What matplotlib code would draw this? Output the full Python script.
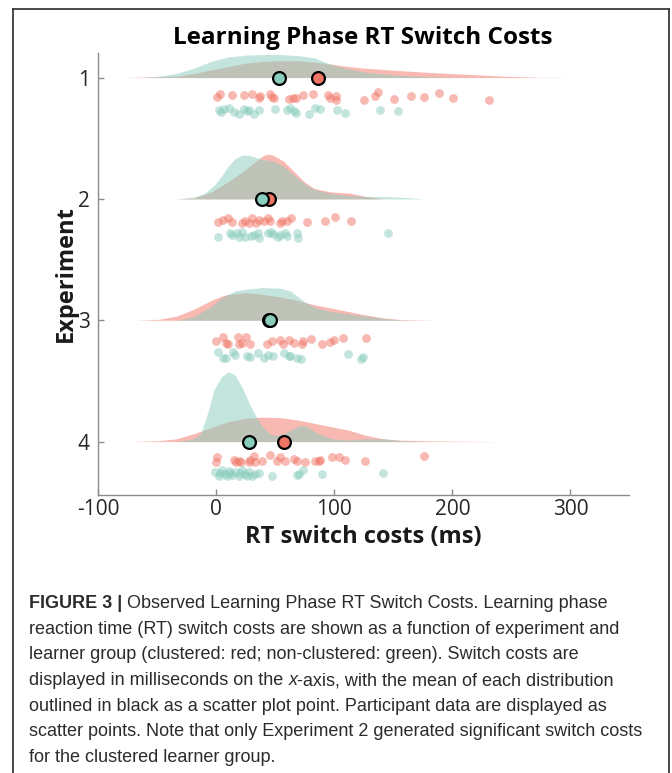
import matplotlib
matplotlib.use("Agg")
import matplotlib.pyplot as plt
from matplotlib.lines import Line2D
import numpy as np

# ---- data (x in ms) ----
experiments = [1, 2, 3, 4]
tick_x = [-100, 0, 100, 200, 300]

red_mean = [86.0, 44.3, 45.0, 57.7]
green_mean = [53.0, 38.5, 45.8, 27.6]

# density outlines (x, height in arbitrary units)
exp1_red_kx = [-77.5, -33.7, -19.1, -4.5, 10.1, 24.7, 39.3, 54.0, 68.6, 83.2, 97.8, 112.4, 127.0, 156.2, 185.4, 214.7, 243.9, 273.1, 302.4]
exp1_red_kh = [0, 1.4, 4.1, 7.6, 11.0, 14.5, 16.2, 16.9, 16.9, 15.5, 13.4, 11.0, 9.3, 6.9, 4.8, 3.1, 1.4, 0.3, 0]
exp1_grn_kx = [-63.0, -48.3, -33.7, -19.1, -4.5, 10.1, 24.7, 39.3, 54.0, 68.6, 83.2, 97.8, 112.4, 127.0, 156.2, 185.4, 214.7]
exp1_grn_kh = [0, 1.4, 4.1, 9.3, 16.2, 20.7, 22.4, 23.1, 23.1, 22.1, 19.7, 12.8, 8.6, 5.2, 2.1, 0.7, 0]

exp2_red_kx = [-33.7, -19.1, -4.5, 10.1, 24.7, 33.5, 39.3, 43.7, 48.1, 56.9, 65.6, 74.4, 83.2, 97.8, 112.4, 127.0, 141.6]
exp2_red_kh = [0, 1.0, 6.9, 17.2, 29.3, 37.9, 43.1, 44.8, 43.8, 37.9, 27.6, 17.2, 10.3, 6.9, 5.9, 2.4, 0]
exp2_grn_kx = [-33.7, -19.1, -10.4, -1.6, 4.2, 10.1, 15.9, 21.8, 27.6, 33.5, 39.3, 48.1, 56.9, 65.6, 74.4, 83.2, 97.8, 112.4, 127.0, 141.6, 156.2, 176.7]
exp2_grn_kh = [0, 1.7, 5.2, 13.8, 22.4, 32.8, 40.3, 43.8, 43.8, 41.4, 39.7, 37.9, 32.8, 24.1, 15.5, 9.3, 5.2, 3.4, 2.4, 2.4, 1.7, 0]

exp3_red_kx = [-68.8, -48.3, -33.7, -19.1, -4.5, 4.2, 10.1, 24.7, 39.3, 54.0, 68.6, 74.4, 83.2, 97.8, 112.4, 127.0, 141.6, 156.2, 185.4]
exp3_red_kh = [0, 1.0, 4.1, 11.0, 19.7, 24.1, 25.9, 27.6, 25.9, 23.4, 20.0, 17.9, 15.5, 12.1, 8.6, 5.2, 2.4, 0.7, 0]
exp3_grn_kx = [-33.7, -19.1, -4.5, 4.2, 10.1, 15.9, 24.7, 39.3, 54.0, 62.7, 68.6, 74.4, 83.2, 97.8, 112.4, 127.0, 141.6, 156.2, 170.8]
exp3_grn_kh = [0, 3.4, 13.8, 22.4, 25.9, 29.3, 31.0, 32.8, 32.1, 29.3, 24.1, 19.0, 13.1, 8.6, 6.2, 4.1, 1.7, 0.3, 0]

exp4_red_kx = [-71.7, -48.3, -33.7, -19.1, -4.5, 10.1, 24.7, 39.3, 54.0, 68.6, 83.2, 97.8, 112.4, 127.0, 141.6, 156.2, 185.4, 214.7, 243.9]
exp4_red_kh = [0, 1.0, 2.8, 7.9, 14.1, 20.0, 23.4, 24.5, 24.1, 21.7, 18.3, 14.8, 11.4, 6.2, 2.8, 1.4, 0.7, 0.3, 0]
exp4_grn_kx = [-33.7, -19.1, -13.3, -7.4, -1.6, 4.2, 10.1, 15.9, 21.8, 27.6, 33.5, 39.3, 45.2, 51.0, 56.9, 65.6, 71.4, 77.3, 86.1, 97.8, 112.4, 127.0, 141.6, 156.2, 170.8]
exp4_grn_kh = [0, 2.8, 7.9, 28.6, 52.8, 64.8, 70.0, 66.6, 54.5, 39.0, 25.2, 14.8, 7.9, 6.2, 7.9, 13.1, 16.6, 14.8, 7.9, 2.8, 1.7, 2.8, 2.8, 1.0, 0]

# participant points (x, vertical jitter below the experiment line)
exp1_red_x = [0.6, 3.4, 13.3, 23.2, 30.2, 36.4, 37.3, 45.8, 47.2, 48.6, 61.3, 64.7, 67.5, 73.2, 81.6, 94.4, 96.6, 101.4, 101.4, 125.4, 134.7, 136.7, 150.8, 165.0, 175.7, 188.4, 200.3, 230.8]
exp1_red_dy = [0.160, 0.132, 0.140, 0.140, 0.132, 0.168, 0.151, 0.132, 0.160, 0.168, 0.173, 0.168, 0.165, 0.146, 0.132, 0.140, 0.168, 0.151, 0.187, 0.181, 0.151, 0.123, 0.173, 0.151, 0.160, 0.129, 0.165, 0.181]
exp1_grn_x = [2.0, 4.2, 6.2, 10.5, 14.7, 18.9, 23.2, 26.0, 27.4, 31.6, 35.9, 50.0, 59.9, 62.7, 65.5, 67.5, 78.2, 83.3, 88.1, 102.3, 108.8, 139.0, 154.0]
exp1_grn_dy = [0.269, 0.283, 0.255, 0.250, 0.283, 0.297, 0.255, 0.277, 0.269, 0.297, 0.269, 0.261, 0.269, 0.250, 0.277, 0.288, 0.297, 0.250, 0.261, 0.269, 0.288, 0.264, 0.275]

exp2_red_x = [1.4, 5.8, 10.1, 13.0, 21.8, 24.7, 27.6, 30.6, 33.5, 36.4, 40.8, 43.7, 45.2, 54.0, 55.4, 59.8, 63.3, 76.8, 92.0, 100.7, 113.8]
exp2_red_dy = [0.193, 0.170, 0.156, 0.193, 0.198, 0.184, 0.198, 0.156, 0.198, 0.170, 0.179, 0.156, 0.184, 0.198, 0.184, 0.179, 0.156, 0.193, 0.184, 0.150, 0.184]
exp2_grn_x = [1.4, 11.6, 13.0, 17.4, 18.9, 21.8, 24.7, 29.1, 32.0, 34.9, 36.4, 43.7, 46.6, 48.1, 52.5, 54.0, 58.3, 59.8, 68.6, 69.2, 145.1]
exp2_grn_dy = [0.312, 0.278, 0.298, 0.284, 0.312, 0.269, 0.312, 0.306, 0.298, 0.278, 0.320, 0.278, 0.269, 0.289, 0.312, 0.298, 0.284, 0.306, 0.278, 0.326, 0.284]

exp3_red_x = [-0.1, 5.8, 8.6, 10.1, 18.3, 19.5, 21.8, 25.3, 28.2, 42.9, 47.5, 54.0, 56.9, 61.3, 66.2, 73.0, 73.8, 80.3, 89.6, 96.4, 99.3, 107.1, 126.4]
exp3_red_dy = [0.170, 0.142, 0.184, 0.199, 0.136, 0.199, 0.184, 0.142, 0.193, 0.199, 0.170, 0.165, 0.199, 0.165, 0.184, 0.193, 0.170, 0.156, 0.193, 0.176, 0.165, 0.150, 0.148]
exp3_grn_x = [1.4, 5.8, 8.6, 14.5, 15.9, 26.2, 28.2, 34.9, 40.8, 43.7, 48.1, 57.5, 61.3, 62.7, 68.6, 71.4, 111.8, 122.6, 124.7]
exp3_grn_dy = [0.261, 0.312, 0.312, 0.264, 0.284, 0.298, 0.304, 0.270, 0.307, 0.284, 0.298, 0.270, 0.292, 0.298, 0.307, 0.321, 0.278, 0.321, 0.304]

exp4_red_x = [0.6, -0.3, 14.7, 16.7, 18.9, 21.2, 27.4, 28.8, 31.6, 33.1, 38.7, 45.8, 51.4, 54.2, 58.5, 65.5, 68.4, 74.8, 83.9, 86.7, 88.1, 98.0, 103.7, 109.3, 125.7, 175.7]
exp4_red_dy = [0.129, 0.167, 0.148, 0.167, 0.156, 0.167, 0.167, 0.148, 0.120, 0.167, 0.156, 0.112, 0.156, 0.129, 0.162, 0.140, 0.162, 0.167, 0.156, 0.156, 0.148, 0.129, 0.129, 0.148, 0.156, 0.120]
exp4_grn_x = [-0.8, 2.0, 3.4, 4.8, 7.6, 9.0, 10.5, 11.9, 13.3, 16.1, 18.9, 20.3, 21.8, 24.6, 26.0, 27.4, 30.2, 33.1, 35.9, 47.2, 68.4, 69.8, 73.2, 89.5, 141.0]
exp4_grn_dy = [0.249, 0.285, 0.258, 0.238, 0.266, 0.285, 0.244, 0.258, 0.277, 0.249, 0.285, 0.258, 0.238, 0.266, 0.285, 0.249, 0.285, 0.271, 0.258, 0.285, 0.277, 0.266, 0.238, 0.266, 0.258]

caption_lines = [
    [("FIGURE 3 | ", "bold"), ("Observed Learning Phase RT Switch Costs. Learning phase", "normal")],
    [("reaction time (RT) switch costs are shown as a function of experiment and", "normal")],
    [("learner group (clustered: red; non-clustered: green). Switch costs are", "normal")],
    [("displayed in milliseconds on the ", "normal"), ("x", "italic"), ("-axis, with the mean of each distribution", "normal")],
    [("outlined in black as a scatter plot point. Participant data are displayed as", "normal")],
    [("scatter points. Note that only Experiment 2 generated significant switch costs", "normal")],
    [("for the clustered learner group.", "normal")],
]

RED = "#F17565"
GREEN = "#89CDBD"
DENS_SCALE = 1 / 121.5  # density units -> experiment units
W, H = 672, 773
UI_FONT = ["Open Sans", "DejaVu Sans"]
CAP_FONT = ["Liberation Sans", "DejaVu Sans"]


def draw_group(ax, exp, kx, kh, px, pdy, color):
    """half-violin density above the line, jittered participant points below"""
    kx = np.array(kx)
    kh = np.array(kh) * DENS_SCALE
    ax.fill_between(kx, exp, exp - kh, color=color, alpha=0.5, lw=0, zorder=2)
    ax.scatter(px, exp + np.array(pdy), s=40, color=color, alpha=0.5, lw=0, zorder=3)


def main():
    fig = plt.figure(figsize=(W / 100, H / 100), dpi=100)
    ax = fig.add_axes([98.3 / W, 1 - 495 / H, (629.4 - 98.3) / W, (495 - 53.3) / H])

    reds = [(exp1_red_kx, exp1_red_kh, exp1_red_x, exp1_red_dy),
            (exp2_red_kx, exp2_red_kh, exp2_red_x, exp2_red_dy),
            (exp3_red_kx, exp3_red_kh, exp3_red_x, exp3_red_dy),
            (exp4_red_kx, exp4_red_kh, exp4_red_x, exp4_red_dy)]
    greens = [(exp1_grn_kx, exp1_grn_kh, exp1_grn_x, exp1_grn_dy),
              (exp2_grn_kx, exp2_grn_kh, exp2_grn_x, exp2_grn_dy),
              (exp3_grn_kx, exp3_grn_kh, exp3_grn_x, exp3_grn_dy),
              (exp4_grn_kx, exp4_grn_kh, exp4_grn_x, exp4_grn_dy)]

    # red first, green drawn over it (gives the grey overlap)
    for i, exp in enumerate(experiments):
        draw_group(ax, exp, *reds[i], RED)
        draw_group(ax, exp, *greens[i], GREEN)
    ax.scatter(red_mean, experiments, s=85, color=RED, edgecolor="black", lw=1.6, zorder=5)
    ax.scatter(green_mean, experiments, s=85, color=GREEN, edgecolor="black", lw=1.6, zorder=6)

    ax.set_xlim(-100, 350)
    ax.set_ylim(4.44, 0.80)
    ax.set_xticks(tick_x)
    ax.set_xticklabels([str(t) for t in tick_x], family=UI_FONT)
    ax.set_yticks(experiments)
    ax.set_yticklabels([str(e) for e in experiments], family=UI_FONT)
    for s in ["top", "right"]:
        ax.spines[s].set_visible(False)
    for s in ["left", "bottom"]:
        ax.spines[s].set_color("#8c8c8c")
        ax.spines[s].set_linewidth(1.0)
    ax.tick_params(direction="in", length=4, width=1, color="#8c8c8c",
                   labelsize=15, labelcolor="#262626")
    ax.tick_params(axis="x", pad=3)
    ax.tick_params(axis="y", pad=6)

    fig.text(363 / W, 1 - 38 / H, "Learning Phase RT Switch Costs", ha="center", va="center",
             fontsize=17.5, weight="bold", family=UI_FONT)
    fig.text(363 / W, 1 - 537 / H, "RT switch costs (ms)", ha="center", va="center",
             fontsize=17, weight="bold", family=UI_FONT, color="#1a1a1a")
    fig.text(66 / W, 1 - 274 / H, "Experiment", ha="center", va="center", rotation=90,
             fontsize=17, weight="bold", family=UI_FONT, color="#1a1a1a")

    # frame around figure + caption
    frame = dict(color="#3a3a3a", lw=1.3, transform=fig.transFigure)
    fig.add_artist(Line2D([13 / W, 13 / W], [0, 1 - 9 / H], **frame))
    fig.add_artist(Line2D([13 / W, 669 / W], [1 - 9 / H, 1 - 9 / H], **frame))
    fig.add_artist(Line2D([669 / W, 669 / W], [0, 1 - 9 / H], **frame))

    # caption, piece by piece so bold / italic runs line up
    renderer = fig.canvas.get_renderer()
    for i, line in enumerate(caption_lines):
        x = 29 / W
        y = 1 - (608 + i * 25.7) / H
        for text, style in line:
            kw = dict(fontsize=13, family=CAP_FONT, color="#2b2b2b", va="baseline")
            if style == "bold":
                kw["weight"] = "bold"
            elif style == "italic":
                kw["style"] = "italic"
            t = fig.text(x, y, text, **kw)
            bb = t.get_window_extent(renderer)
            x = bb.x1 / W

    fig.savefig("out.png", dpi=100)


if __name__ == "__main__":
    main()
